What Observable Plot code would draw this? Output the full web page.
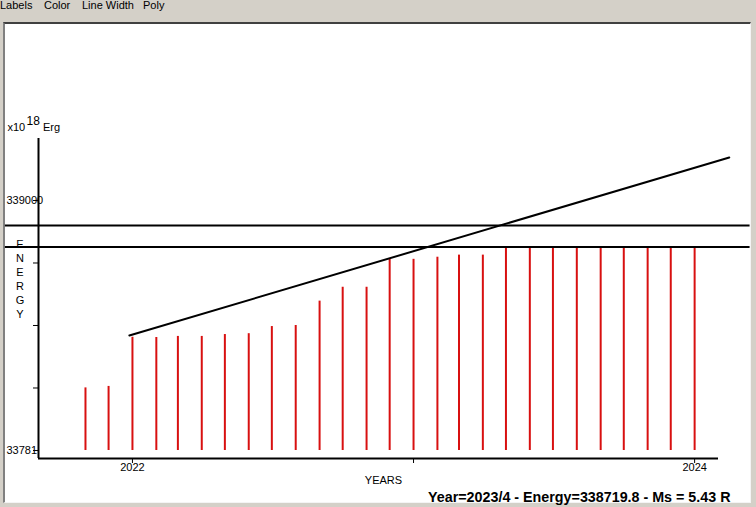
<!DOCTYPE html>
<html><head><meta charset="utf-8">
<script src="https://cdn.jsdelivr.net/npm/d3@7"></script>
<script src="https://cdn.jsdelivr.net/npm/@observablehq/plot@0.6"></script>
<style>
html,body{margin:0;padding:0;width:756px;height:507px;overflow:hidden;background:#d4d0c8;font-family:"Liberation Sans",Arial,sans-serif;}
#menu span{position:absolute;top:-1px;font-size:11px;line-height:12px;color:#000;white-space:nowrap;}
#panel{position:absolute;left:3px;top:22px;width:745px;height:478px;background:#fff;border-top:2px solid #404040;border-left:2px solid #808080;border-right:1px solid #f4f4f4;border-bottom:1px solid #f4f4f4;}
#chart{position:absolute;left:0;top:0;}
</style></head>
<body>
<div id="menu"><span style="left:0px">Labels</span><span style="left:44px">Color</span><span style="left:82px">Line Width</span><span style="left:143px">Poly</span></div>
<div id="panel"></div>
<div id="chart"></div>
<script>
// ---- data ----
const months = ["2021-11","2021-12",
  "2022-01","2022-02","2022-03","2022-04","2022-05","2022-06","2022-07","2022-08","2022-09","2022-10","2022-11","2022-12",
  "2023-01","2023-02","2023-03","2023-04","2023-05","2023-06","2023-07","2023-08","2023-09","2023-10","2023-11","2023-12",
  "2024-01"];
const energy = [338108, 338115,
  338349, 338348, 338353, 338353, 338362, 338366, 338400, 338405, 338521, 338587, 338587, 338719.8,
  338720, 338730, 338740, 338740, 338779, 338779, 338779, 338779, 338779, 338779, 338779, 338779,
  338779];
const baseline = 337810;
const xDomain = ["2021-09-01", "2024-02-01"];
const yDomain = [337771.9, 339295.1];
const levels = [338779, 338881];
const levelSpan = ["2021-07-20", "2024-03-13"];
const trendDates = ["2021-12-28", "2024-02-15"];
const trendValues = [338357, 339205];
const yTicks = [337810, 338107.5, 338405, 338702.5, 339000];
const yTickLabels = ["33781", "", "", "", "339000"];
const xTicks = ["2022-01-01", "2023-01-01", "2024-01-01"];
const xTickLabels = ["2022", "", "2024"];
const yUnit = ["x10", "18", "Erg"];
const yTitle = "ENERGY";
const xTitle = "YEARS";
const status = "Year=2023/4 - Energy=338719.8 - Ms = 5.43 R";

// ---- build ----
const bars = months.map((m, i) => ({date: new Date(m + "-01"), energy: energy[i]}));
const levelData = levels.map(v => ({y: v, x1: new Date(levelSpan[0]), x2: new Date(levelSpan[1])}));
const trend = trendDates.map((d, i) => ({date: new Date(d), energy: trendValues[i]}));
const yLab = yTicks.map((v, i) => ({v, t: yTickLabels[i]}));
const xLabMap = new Map(xTicks.map((d, i) => [new Date(d).getTime(), xTickLabels[i]]));
const red = "#d81010";

const chart = Plot.plot({
  width: 756, height: 507,
  marginLeft: 38, marginRight: 38, marginTop: 138, marginBottom: 49,
  style: {background: "transparent", fontFamily: "'Liberation Sans', Arial, sans-serif", fontSize: "11px", color: "#000"},
  x: {type: "utc", domain: xDomain.map(d => new Date(d)), label: null},
  y: {domain: yDomain, label: null},
  marks: [
    Plot.text([yTitle.split("").join("\n")], {frameAnchor: "left", dx: -18.5, dy: -20, lineHeight: 1.27, textAnchor: "middle", lineAnchor: "middle", fill: "#000"}),
    Plot.ruleX(bars, {x: "date", y1: baseline, y2: "energy", stroke: red, strokeWidth: 2}),
    Plot.ruleX([new Date(xDomain[0])], {stroke: "#000", strokeWidth: 2}),
    Plot.ruleY([yDomain[0]], {stroke: "#000", strokeWidth: 2}),
    Plot.axisY(yTicks, {tickSize: 5, tickFormat: () => "", stroke: "#000"}),
    Plot.text(yLab, {y: "v", text: "t", frameAnchor: "left", textAnchor: "start", lineAnchor: "middle", dx: -32, fill: "#000"}),
    Plot.axisX(xTicks.map(d => new Date(d)), {tickSize: 5, tickPadding: 0, tickFormat: d => xLabMap.get(d.getTime()) ?? "", stroke: "#000", fill: "#000"}),
    Plot.ruleY(levelData, {y: "y", x1: "x1", x2: "x2", stroke: "#000", strokeWidth: 2}),
    Plot.line(trend, {x: "date", y: "energy", stroke: "#000", strokeWidth: 2}),
    Plot.text([yUnit[0]], {frameAnchor: "top-left", textAnchor: "start", lineAnchor: "middle", dx: -31, dy: -11, fill: "#000"}),
    Plot.text([yUnit[1]], {frameAnchor: "top-left", textAnchor: "start", lineAnchor: "middle", dx: -12, dy: -17.5, fontSize: 12, fill: "#000"}),
    Plot.text([yUnit[2]], {frameAnchor: "top-left", textAnchor: "start", lineAnchor: "middle", dx: 4.5, dy: -11, fill: "#000"}),
    Plot.text([xTitle], {frameAnchor: "bottom", textAnchor: "middle", lineAnchor: "middle", dx: 5, dy: 22, fill: "#000"}),
    Plot.text([status], {frameAnchor: "bottom-right", textAnchor: "end", lineAnchor: "middle", dx: 12, dy: 38.5, fontWeight: "bold", fontSize: 14.3, fill: "#000"})
  ]
});
document.getElementById("chart").appendChild(chart);
</script>
</body></html>
